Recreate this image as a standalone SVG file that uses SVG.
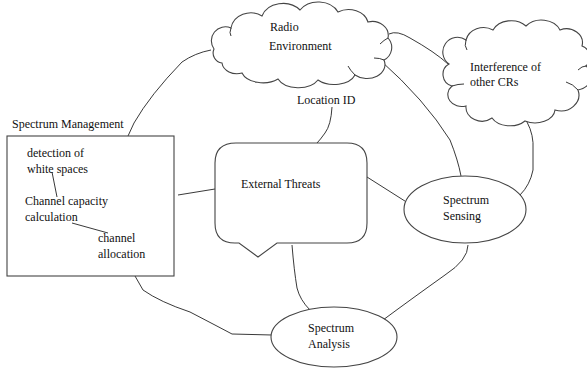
<svg xmlns="http://www.w3.org/2000/svg" width="587" height="369" viewBox="0 0 587 369">
<style>
.t{font-family:"Liberation Serif","Times New Roman",serif;font-size:12px;fill:#111}
.s{fill:#fff;stroke:#444;stroke-width:1.1}
.c{fill:none;stroke:#222;stroke-width:0.9}
</style>
<rect width="587" height="369" fill="#fff"/>
<g id="connectors">
<path class="c" d="M128,136 L134,123 Q150,95 182,62 Q195,53 211,50"/>
<path class="c" d="M389,34 Q397,30 410,38 Q435,52 448,64"/>
<path class="c" d="M380,60 Q425,100 450,140 Q458,160 461,176"/>
<path class="c" d="M527,122 Q534,135 533,150 L533,170 Q530,185 520,195"/>
<path class="c" d="M332,107 Q331,125 325,133 Q320,140 317,143"/>
<path class="c" d="M367,177 L408,203"/>
<path class="c" d="M178,195 L215,189"/>
<path class="c" d="M292,245 Q294,270 297,288 Q300,300 310,310"/>
<path class="c" d="M468,245 Q468,260 445,275 Q410,300 383,320"/>
<path class="c" d="M135,276 L143,290 Q160,302 190,312 Q215,325 232,334 L272,335"/>
</g>
<g id="radio-environment">
<path class="s" d="M214,49 A14,14 0 0 1 231,28 A20,18 0 0 1 262,16 A22,18 0 0 1 300,10 A22,18 0 0 1 338,12 A20,16 0 0 1 368,22 A16,14 0 0 1 388,38 A14,14 0 0 1 384,60 A18,14 0 0 1 355,75 A22,14 0 0 1 318,80 A22,14 0 0 1 278,79 A22,14 0 0 1 242,73 A15,12 0 0 1 222,63 A10,10 0 0 1 214,49 Z"/>
<path class="c" d="M231,28 Q229,33 231,36 M355,75 Q350,70 348,66 M384,60 Q380,58 374,58 M388,38 Q384,40 380,44"/>
<text class="t" x="270" y="31">Radio</text>
<text class="t" x="269" y="50">Environment</text>
</g>
<g id="interference">
<path class="s" d="M449,64 A14,14 0 0 1 466,40 A18,16 0 0 1 493,30 A20,16 0 0 1 526,26 A20,16 0 0 1 560,30 A16,14 0 0 1 582,46 A12,12 0 0 1 586,66 A16,14 0 0 1 578,90 A18,16 0 0 1 555,110 A20,14 0 0 1 525,121 A20,14 0 0 1 492,118 A16,14 0 0 1 466,106 A14,12 0 0 1 452,86 A12,12 0 0 1 449,64 Z"/>
<path class="c" d="M466,40 Q464,46 467,50 M578,90 Q573,84 566,82 M452,86 Q458,84 464,84 M586,66 Q582,66 578,70"/>
<text class="t" x="470" y="71">Interference of</text>
<text class="t" x="470" y="86">other CRs</text>
</g>
<g id="spectrum-management">
<text class="t" x="12" y="128">Spectrum Management</text>
<rect class="s" x="7" y="136" width="167" height="140"/>
<path class="c" d="M52,172 L57,197"/>
<path class="c" d="M72,223 L108,233"/>
<text class="t" x="27" y="157">detection of</text>
<text class="t" x="27" y="173">white spaces</text>
<text class="t" x="25" y="205">Channel capacity</text>
<text class="t" x="25" y="221">calculation</text>
<text class="t" x="98" y="242">channel</text>
<text class="t" x="98" y="258">allocation</text>
</g>
<g id="location-id">
<text class="t" x="297" y="104">Location ID</text>
</g>
<g id="external-threats">
<path class="s" d="M236,143 L347,143 Q367,143 367,163 L367,223 Q367,243 347,243 L277,243 L258,257 L239,243 L235,243 Q215,243 215,223 L215,163 Q215,143 236,143 Z"/>
<text class="t" x="241" y="188">External Threats</text>
</g>
<g id="spectrum-sensing">
<ellipse class="s" cx="465" cy="209.5" rx="61" ry="33.5"/>
<text class="t" x="443" y="204">Spectrum</text>
<text class="t" x="443" y="220">Sensing</text>
</g>
<g id="spectrum-analysis">
<ellipse class="s" cx="334" cy="337" rx="63" ry="30"/>
<text class="t" x="308" y="332">Spectrum</text>
<text class="t" x="308" y="348">Analysis</text>
</g>
</svg>
